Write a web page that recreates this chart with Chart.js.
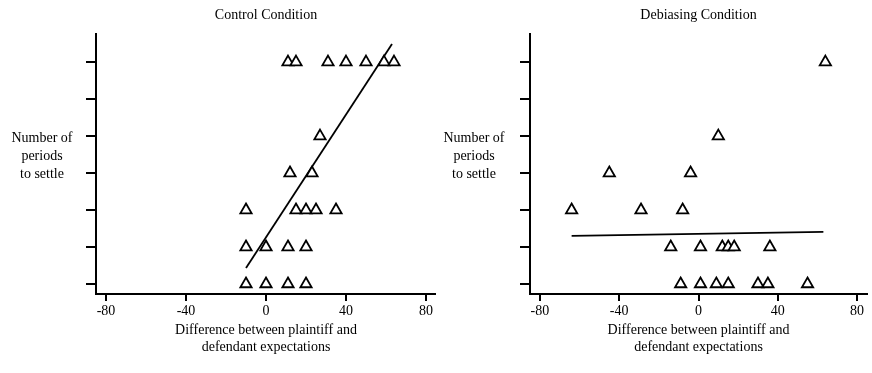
<!DOCTYPE html>
<html>
<head>
<meta charset="utf-8">
<script src="https://cdn.jsdelivr.net/npm/chart.js@4.4.0/dist/chart.umd.min.js"></script>
<style>
  html, body { margin: 0; padding: 0; background: #fff; }
  #wrap { position: relative; width: 872px; height: 373px; }
  canvas { position: absolute; top: 0; }
</style>
</head>
<body>
<div id="wrap">
  <canvas id="controlChart" width="436" height="373" style="left:0"></canvas>
  <canvas id="debiasChart" width="436" height="373" style="left:436px"></canvas>
</div>
<script>
// axis ticks
const xTicks = [-80, -40, 0, 40, 80];
const yTicks = [0, 1, 2, 3, 4, 5, 6];

// Control condition: difference in expectations vs periods to settle
const controlX = [11, 15, 31, 40, 50, 59, 64,  27,  12, 23,  -10, 15, 20, 25, 35,  -10, 0, 11, 20,  -10, 0, 11, 20];
const controlY = [6, 6, 6, 6, 6, 6, 6,  4,  3, 3,  2, 2, 2, 2, 2,  1, 1, 1, 1,  0, 0, 0, 0];
const controlFitX = [-10, 63];
const controlFitY = [0.43, 6.49];

// Debiasing condition
const debiasX = [64,  10,  -45, -4,  -64, -29, -8,  -14, 1, 12, 15, 18, 36,  -9, 1, 9, 15, 30, 35, 55];
const debiasY = [6,  4,  3, 3,  2, 2, 2,  1, 1, 1, 1, 1, 1,  0, 0, 0, 0, 0, 0, 0];
const debiasFitX = [-64, 63];
const debiasFitY = [1.30, 1.41];

const yLabelLines = ['Number of', 'periods', 'to settle'];
const xLabelLines = ['Difference between plaintiff and', 'defendant expectations'];

const serif = '"Liberation Serif", "Times New Roman", serif';

function makeChart(id, title, xs, ys, fitX, fitY, axisWidth, padRight, labelX) {
    const yLabel = {
        id: 'yLabel',
        afterDraw(chart) {
            const ctx = chart.ctx;
            ctx.save();
            ctx.fillStyle = '#000';
            ctx.font = '14px ' + serif;
            ctx.textAlign = 'center';
            ctx.textBaseline = 'middle';
            yLabelLines.forEach((t, i) => ctx.fillText(t, labelX, 138 + i * 18));
            ctx.restore();
        }
    };
    new Chart(document.getElementById(id), {
        type: 'scatter',
        data: {
            datasets: [{
                data: xs.map((x, i) => ({ x: x, y: ys[i] })),
                pointStyle: 'triangle',
                pointRadius: 6.5,
                pointBackgroundColor: '#fff',
                pointBorderColor: '#000',
                pointBorderWidth: 1.8,
                showLine: false
            }, {
                data: fitX.map((x, i) => ({ x: x, y: fitY[i] })),
                showLine: true,
                pointRadius: 0,
                borderColor: '#000',
                borderWidth: 1.8
            }]
        },
        options: {
            responsive: false,
            animation: false,
            layout: { autoPadding: false, padding: { left: 0, right: padRight, top: 0, bottom: 0 } },
            plugins: {
                legend: { display: false },
                tooltip: { enabled: false },
                title: {
                    display: true,
                    text: title,
                    color: '#000',
                    fullSize: false,
                    font: { family: serif, size: 14, weight: 'normal' },
                    padding: { top: 7, bottom: 10.2 }
                }
            },
            scales: {
                x: {
                    type: 'linear',
                    min: -85,
                    max: 85,
                    afterBuildTicks: s => { s.ticks = xTicks.map(v => ({ value: v })); },
                    afterFit: s => { s.height = 79; s.paddingLeft = 0; s.paddingRight = 0; },
                    grid: { drawOnChartArea: false, drawTicks: true, tickLength: 7, color: '#000', lineWidth: 2 },
                    border: { color: '#000', width: 2 },
                    ticks: { color: '#000', font: { family: serif, size: 14 }, padding: 2, maxRotation: 0 },
                    title: {
                        display: true,
                        text: xLabelLines,
                        color: '#000',
                        font: { family: serif, size: 14, lineHeight: '17px' },
                        padding: { top: 0, bottom: 17 }
                    }
                },
                y: {
                    type: 'linear',
                    min: -0.27,
                    max: 6.76,
                    afterBuildTicks: s => { s.ticks = yTicks.map(v => ({ value: v })); },
                    afterFit: s => { s.width = axisWidth; s.paddingTop = 0; s.paddingBottom = 0; },
                    grid: { drawOnChartArea: false, drawTicks: true, tickLength: 10, color: '#000', lineWidth: 2 },
                    border: { color: '#000', width: 2 },
                    ticks: { display: false }
                }
            }
        },
        plugins: [yLabel]
    });
}

makeChart('controlChart', 'Control Condition', controlX, controlY, controlFitX, controlFitY, 96, 0, 42);
makeChart('debiasChart', 'Debiasing Condition', debiasX, debiasY, debiasFitX, debiasFitY, 94, 5, 38);
</script>
</body>
</html>
